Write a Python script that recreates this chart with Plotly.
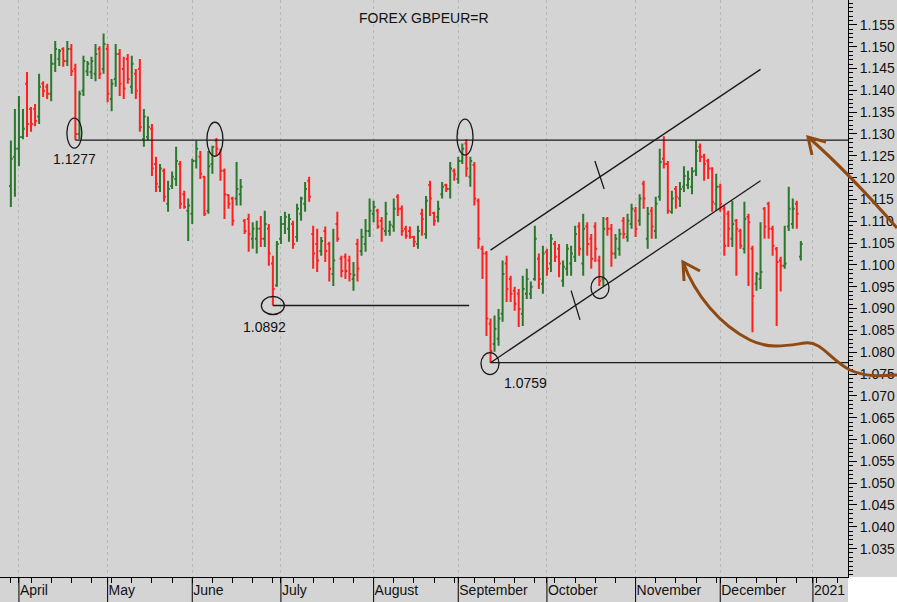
import pandas as pd
import plotly.graph_objects as go

# ---------------- data ----------------
first_bar = "2020-03-30"
last_bar = "2020-12-29"

opens = [
    1.1181, 1.1248, 1.1266, 1.1293, 1.1415, 1.1357, 1.1357, 1.1340, 1.1415, 1.1408,
    1.1392, 1.1461, 1.1472, 1.1495, 1.1467, 1.1495, 1.1449, 1.1300, 1.1399, 1.1444,
    1.1442, 1.1438, 1.1495, 1.1449, 1.1495, 1.1380, 1.1426, 1.1483, 1.1449, 1.1472,
    1.1408, 1.1438, 1.1449, 1.1288, 1.1293, 1.1312, 1.1231, 1.1179, 1.1216, 1.1140,
    1.1181, 1.1197, 1.1231, 1.1162, 1.1124, 1.1117, 1.1238, 1.1248, 1.1202, 1.1124,
    1.1231, 1.1285, 1.1255, 1.1216, 1.1160, 1.1152, 1.1152, 1.1162, 1.1101, 1.1105,
    1.1060, 1.1060, 1.1083, 1.1060, 1.1083, 1.1003, 1.0953, 1.1060, 1.1094, 1.1083,
    1.1094, 1.1064, 1.1117, 1.1140, 1.1193, 1.1071, 1.1048, 1.1032, 1.1078, 1.1048,
    1.0979, 1.1094, 1.1014, 1.1019, 1.1010, 1.0968, 1.1048, 1.1032, 1.1048, 1.1078,
    1.1117, 1.1124, 1.1101, 1.1078, 1.1078, 1.1088, 1.1156, 1.1129, 1.1083, 1.1078,
    1.1064, 1.1048, 1.1117, 1.1071, 1.1183, 1.1119, 1.1110, 1.1162, 1.1183, 1.1174,
    1.1216, 1.1197, 1.1238, 1.1278, 1.1202, 1.1229, 1.1147, 1.1037, 1.1026, 1.0865,
    1.0819, 1.0831, 1.0888, 1.1003, 1.0968, 1.0941, 1.0934, 1.0888, 1.0934, 1.0934,
    1.0968, 1.1014, 1.0957, 1.1030, 1.1003, 1.1048, 1.1037, 1.0964, 1.0991, 1.1003,
    1.1019, 1.1088, 1.1003, 1.1088, 1.1060, 1.1088, 1.1010, 1.0968, 1.1105, 1.1083,
    1.1026, 1.1037, 1.1101, 1.1064, 1.1094, 1.1124, 1.1101, 1.1186, 1.1060, 1.1124,
    1.1078, 1.1156, 1.1243, 1.1231, 1.1122, 1.1174, 1.1152, 1.1179, 1.1183, 1.1179,
    1.1216, 1.1271, 1.1248, 1.1238, 1.1221, 1.1140, 1.1179, 1.1129, 1.1117, 1.1060,
    1.1101, 1.1078, 1.1037, 1.1110, 1.1037, 1.0957, 1.0968, 1.1129, 1.1140, 1.1083,
    1.1037, 1.1010, 1.0998, 1.1088, 1.1094, 1.1140, 1.1019,
]
highs = [
    1.1285, 1.1357, 1.1387, 1.1357, 1.1442, 1.1362, 1.1369, 1.1438, 1.1421, 1.1415,
    1.1483, 1.1513, 1.1495, 1.1499, 1.1513, 1.1506, 1.1461, 1.1399, 1.1479, 1.1467,
    1.1477, 1.1506, 1.1501, 1.1530, 1.1506, 1.1426, 1.1506, 1.1495, 1.1477, 1.1483,
    1.1479, 1.1449, 1.1472, 1.1357, 1.1340, 1.1323, 1.1248, 1.1231, 1.1221, 1.1193,
    1.1214, 1.1271, 1.1238, 1.1170, 1.1152, 1.1243, 1.1285, 1.1261, 1.1204, 1.1261,
    1.1273, 1.1291, 1.1266, 1.1221, 1.1162, 1.1156, 1.1236, 1.1197, 1.1105, 1.1117,
    1.1098, 1.1101, 1.1112, 1.1124, 1.1094, 1.1021, 1.1055, 1.1112, 1.1122, 1.1117,
    1.1101, 1.1140, 1.1156, 1.1190, 1.1202, 1.1090, 1.1083, 1.1064, 1.1088, 1.1053,
    1.1083, 1.1122, 1.1021, 1.1026, 1.1021, 1.1007, 1.1060, 1.1083, 1.1105, 1.1152,
    1.1147, 1.1129, 1.1110, 1.1145, 1.1101, 1.1152, 1.1162, 1.1136, 1.1090, 1.1088,
    1.1067, 1.1090, 1.1129, 1.1158, 1.1193, 1.1122, 1.1147, 1.1190, 1.1186, 1.1236,
    1.1221, 1.1248, 1.1278, 1.1288, 1.1248, 1.1236, 1.1152, 1.1044, 1.1032, 1.0877,
    1.0884, 1.0899, 1.1010, 1.1021, 1.0975, 1.0950, 1.0945, 1.0975, 1.0991, 1.0962,
    1.1090, 1.1026, 1.1044, 1.1037, 1.1071, 1.1055, 1.1048, 1.1010, 1.1048, 1.1044,
    1.1090, 1.1098, 1.1117, 1.1098, 1.1071, 1.1098, 1.1021, 1.1110, 1.1110, 1.1094,
    1.1071, 1.1083, 1.1110, 1.1117, 1.1140, 1.1133, 1.1162, 1.1193, 1.1133, 1.1133,
    1.1156, 1.1266, 1.1295, 1.1238, 1.1170, 1.1181, 1.1190, 1.1226, 1.1216, 1.1224,
    1.1285, 1.1278, 1.1255, 1.1243, 1.1224, 1.1209, 1.1186, 1.1136, 1.1124, 1.1147,
    1.1105, 1.1083, 1.1145, 1.1117, 1.1044, 1.0984, 1.1098, 1.1133, 1.1145, 1.1090,
    1.1041, 1.1019, 1.1090, 1.1179, 1.1152, 1.1147, 1.1055,
]
lows = [
    1.1133, 1.1156, 1.1226, 1.1288, 1.1293, 1.1305, 1.1318, 1.1323, 1.1385, 1.1380,
    1.1375, 1.1442, 1.1456, 1.1454, 1.1456, 1.1433, 1.1286, 1.1288, 1.1387, 1.1433,
    1.1426, 1.1421, 1.1426, 1.1438, 1.1373, 1.1352, 1.1408, 1.1387, 1.1380, 1.1415,
    1.1392, 1.1380, 1.1305, 1.1271, 1.1285, 1.1204, 1.1167, 1.1167, 1.1145, 1.1122,
    1.1174, 1.1181, 1.1129, 1.1129, 1.1055, 1.1094, 1.1221, 1.1197, 1.1112, 1.1117,
    1.1209, 1.1250, 1.1193, 1.1105, 1.1129, 1.1090, 1.1136, 1.1136, 1.1071, 1.1030,
    1.1037, 1.1026, 1.1041, 1.1041, 1.0998, 1.0907, 1.0950, 1.1048, 1.1071, 1.1053,
    1.1037, 1.1053, 1.1101, 1.1122, 1.1145, 1.0991, 1.0984, 1.1021, 1.1007, 1.0962,
    1.0952, 1.1053, 1.0972, 1.0968, 1.0962, 1.0941, 1.0962, 1.1021, 1.1030, 1.1064,
    1.1098, 1.1083, 1.1053, 1.1067, 1.1067, 1.1076, 1.1112, 1.1067, 1.1060, 1.1060,
    1.1041, 1.1037, 1.1067, 1.1060, 1.1112, 1.1090, 1.1098, 1.1152, 1.1167, 1.1152,
    1.1193, 1.1186, 1.1231, 1.1202, 1.1179, 1.1136, 1.1037, 1.0968, 1.0837, 1.0776,
    1.0801, 1.0815, 1.0870, 1.0915, 1.0915, 1.0895, 1.0858, 1.0860, 1.0922, 1.0922,
    1.0964, 1.0945, 1.0934, 1.0975, 1.0984, 1.1007, 1.0972, 1.0950, 1.0975, 1.0975,
    1.1007, 1.1021, 1.0975, 1.1021, 1.0991, 1.1007, 1.0952, 1.0952, 1.1067, 1.0996,
    1.1014, 1.1021, 1.1060, 1.1053, 1.1083, 1.1064, 1.1090, 1.1129, 1.1037, 1.1060,
    1.1060, 1.1147, 1.1221, 1.1117, 1.1117, 1.1129, 1.1133, 1.1167, 1.1174, 1.1162,
    1.1204, 1.1236, 1.1193, 1.1197, 1.1122, 1.1124, 1.1122, 1.1021, 1.1041, 1.1041,
    1.0975, 1.1037, 1.1026, 1.0952, 1.0846, 1.0941, 1.0945, 1.1060, 1.1060, 1.1021,
    1.0860, 1.0939, 1.0991, 1.1078, 1.1083, 1.1083, 1.1010,
]
closes = [
    1.1243, 1.1266, 1.1293, 1.1312, 1.1323, 1.1323, 1.1330, 1.1408, 1.1399, 1.1392,
    1.1461, 1.1495, 1.1490, 1.1467, 1.1495, 1.1444, 1.1300, 1.1392, 1.1467, 1.1461,
    1.1467, 1.1483, 1.1438, 1.1506, 1.1392, 1.1415, 1.1483, 1.1415, 1.1404, 1.1426,
    1.1461, 1.1399, 1.1316, 1.1340, 1.1316, 1.1221, 1.1186, 1.1221, 1.1156, 1.1174,
    1.1202, 1.1238, 1.1140, 1.1133, 1.1136, 1.1238, 1.1266, 1.1209, 1.1117, 1.1226,
    1.1271, 1.1266, 1.1216, 1.1162, 1.1140, 1.1101, 1.1174, 1.1179, 1.1078, 1.1071,
    1.1083, 1.1083, 1.1060, 1.1094, 1.1026, 1.0945, 1.1048, 1.1094, 1.1110, 1.1105,
    1.1048, 1.1129, 1.1152, 1.1174, 1.1156, 1.1026, 1.1010, 1.1055, 1.1032, 1.0991,
    1.1010, 1.1060, 1.0986, 1.0986, 1.0979, 1.0977, 1.0991, 1.1064, 1.1078, 1.1124,
    1.1133, 1.1088, 1.1083, 1.1117, 1.1092, 1.1129, 1.1129, 1.1078, 1.1067, 1.1064,
    1.1053, 1.1078, 1.1105, 1.1147, 1.1152, 1.1101, 1.1129, 1.1179, 1.1174, 1.1221,
    1.1207, 1.1238, 1.1266, 1.1221, 1.1238, 1.1152, 1.1060, 1.1026, 1.0877, 1.0803,
    1.0853, 1.0877, 1.0979, 1.0945, 1.0934, 1.0911, 1.0899, 1.0945, 1.0968, 1.0950,
    1.1060, 1.0968, 1.1026, 1.0991, 1.1060, 1.1019, 1.1003, 1.0996, 1.1037, 1.1026,
    1.1071, 1.1037, 1.1083, 1.1048, 1.1014, 1.1037, 1.0964, 1.1083, 1.1083, 1.1026,
    1.1060, 1.1071, 1.1071, 1.1101, 1.1129, 1.1083, 1.1152, 1.1152, 1.1117, 1.1088,
    1.1140, 1.1236, 1.1231, 1.1124, 1.1152, 1.1156, 1.1174, 1.1204, 1.1197, 1.1214,
    1.1261, 1.1248, 1.1231, 1.1221, 1.1145, 1.1179, 1.1140, 1.1044, 1.1083, 1.1094,
    1.1083, 1.1044, 1.1105, 1.1098, 1.0929, 1.0979, 1.0984, 1.1088, 1.1083, 1.1044,
    1.1007, 1.0998, 1.1003, 1.1129, 1.1129, 1.1117, 1.1048,
]

month_starts = ["2020-04-01", "2020-05-01", "2020-06-01", "2020-07-01", "2020-08-03",
                "2020-09-01", "2020-10-01", "2020-11-02", "2020-12-01", "2021-01-01"]
month_labels = ["April", "May", "June", "July", "August",
                "September", "October", "November", "December", "2021"]
y_tick_values = [1.035, 1.040, 1.045, 1.050, 1.055, 1.060, 1.065, 1.070, 1.075,
                 1.080, 1.085, 1.090, 1.095, 1.100, 1.105, 1.110, 1.115, 1.120,
                 1.125, 1.130, 1.135, 1.140, 1.145, 1.150, 1.155]

# marked lows: (date, level where the line is drawn, printed label)
marked_lows = [("2020-04-21", 1.1286, "1.1277"),
               ("2020-06-29", 1.0907, "1.0892"),
               ("2020-09-11", 1.0776, "1.0759")]

# ---------------- trading-day axis ----------------
calendar = pd.bdate_range("2020-03-23", "2021-01-15")
idx = {d.strftime("%Y-%m-%d"): k for k, d in enumerate(calendar)}


def pos(d, frac=0.0):
    return idx[d] + frac


bar_dates = [d.strftime("%Y-%m-%d") for d in pd.bdate_range(first_bar, last_bar)]
xs = [idx[d] for d in bar_dates]
assert len(xs) == len(opens) == len(highs) == len(lows) == len(closes)

mondays = [idx[d.strftime("%Y-%m-%d")] for d in calendar if d.weekday() == 0]
month_pos = [idx[m] for m in month_starts]

x_lo = pos("2020-04-01") - 4.7
x_hi = pos("2020-04-01") + 205.7
y_lo, y_hi = 1.0285, 1.1607

BG = "#d4d4d4"
FONT = "Liberation Sans, Arial, sans-serif"
INK = "#1a1a1a"
BROWN = "#8f4a14"

fig = go.Figure()
fig.add_trace(go.Ohlc(
    x=xs, open=opens, high=highs, low=lows, close=closes,
    increasing=dict(line=dict(color="#2b772b", width=2)),
    decreasing=dict(line=dict(color="#ff1f1f", width=2)),
    tickwidth=0.45, showlegend=False, hoverinfo="skip",
))

shapes = []
# long month separators below the axis
for mp in month_pos:
    shapes.append(dict(type="line", xref="x", yref="paper", x0=mp, x1=mp,
                       y0=-0.045, y1=0, line=dict(color="black", width=1)))

# horizontal support / resistance lines
(d1, v1, _), (d2, v2, _), (d3, v3, _) = marked_lows
shapes.append(dict(type="line", xref="x", yref="y", x0=pos(d1), x1=x_hi,
                   y0=v1, y1=v1, line=dict(color=INK, width=1.3)))
shapes.append(dict(type="line", xref="x", yref="y", x0=pos(d2),
                   x1=pos("2020-09-03", 0.7), y0=v2, y1=v2,
                   line=dict(color=INK, width=1.3)))
shapes.append(dict(type="line", xref="x", yref="y", x0=pos(d3), x1=x_hi,
                   y0=v3, y1=v3, line=dict(color=INK, width=1.3)))

# rising channel
shapes.append(dict(type="line", xref="x", yref="y", x0=pos("2020-09-11"), x1=pos("2020-12-15"),
                   y0=1.1034, y1=1.1448, line=dict(color=INK, width=1.3)))
shapes.append(dict(type="line", xref="x", yref="y", x0=pos("2020-09-11"), x1=pos("2020-12-15"),
                   y0=1.0776, y1=1.1193, line=dict(color=INK, width=1.3)))
# perpendicular marks on channel lines
shapes.append(dict(type="line", xref="x", yref="y", x0=pos("2020-10-16", 0.9),
                   x1=pos("2020-10-21", 0.2), y0=1.1238, y1=1.1174,
                   line=dict(color=INK, width=1.3)))
shapes.append(dict(type="line", xref="x", yref="y", x0=pos("2020-10-09"),
                   x1=pos("2020-10-13", 0.2), y0=1.0941, y1=1.0874,
                   line=dict(color=INK, width=1.3)))

# ellipses (anchored on bars, pixel sized)
ellipses = [
    ("2020-04-21", 1.1302, -8.5, 6.5, 15),
    ("2020-06-09", 1.1288, -9.5, 6.5, 17),
    ("2020-09-03", 1.1293, -9.3, 6.7, 18),
    ("2020-06-29", 1.0907, -11.5, 11.5, 9),
    ("2020-09-11", 1.0774, -9.5, 8.5, 11),
    ("2020-10-20", 1.0948, -8.3, 9.7, 11),
]
for d, v, a, b, hh in ellipses:
    shapes.append(dict(type="circle", xref="x", yref="y", xsizemode="pixel", ysizemode="pixel",
                       xanchor=pos(d), yanchor=v, x0=a, x1=b, y0=-hh, y1=hh,
                       line=dict(color=INK, width=1.3)))

# brown hand-drawn arrows (paper coordinates of the plot area)
PW, PH = 848.0, 577.0


def pp(px, py):
    return f"{px / PW:.5f},{(PH - py) / PH:.5f}"


arrow1 = f"M {pp(897, 228)} Q {pp(846, 170)} {pp(808, 137)}"
head1 = f"M {pp(826, 142)} L {pp(808, 137)} L {pp(812, 155)}"
arrow2 = (f"M {pp(683, 262)} C {pp(695, 295)} {pp(720, 325)} {pp(750, 340)} "
          f"C {pp(770, 350)} {pp(790, 345)} {pp(805, 343)} "
          f"C {pp(822, 341)} {pp(830, 360)} {pp(850, 370)} "
          f"C {pp(865, 377)} {pp(880, 376)} {pp(897, 375)}")
head2 = f"M {pp(700, 271)} L {pp(683, 262)} L {pp(684, 281)}"
for p in (arrow1, head1, arrow2, head2):
    shapes.append(dict(type="path", xref="paper", yref="paper", path=p,
                       line=dict(color=BROWN, width=3)))

# white corner below the price axis
shapes.append(dict(type="rect", xref="paper", yref="paper", x0=1.0, x1=1.07,
                   y0=-0.05, y1=0, fillcolor="white", line=dict(width=0), layer="below"))

annotations = [dict(text="FOREX GBPEUR=R", xref="paper", yref="paper", x=0.5, y=(PH - 18) / PH,
                    showarrow=False, font=dict(family=FONT, size=14, color="#111"),
                    xanchor="center", yanchor="middle")]
label_shift = {"1.1277": (-0.5, -19), "1.0892": (-8, -21), "1.0759": (34.5, -20)}
for d, v, t in marked_lows:
    xsft, ysft = label_shift[t]
    annotations.append(dict(text=t, x=pos(d), y=v, xref="x", yref="y", showarrow=False,
                            xshift=xsft, yshift=ysft, xanchor="center", yanchor="middle",
                            font=dict(family=FONT, size=14, color="#111")))

fig.update_layout(
    width=897, height=602,
    template="none",
    margin=dict(l=0, r=49, t=0, b=25, pad=0),
    paper_bgcolor=BG, plot_bgcolor=BG,
    font=dict(family=FONT, size=14, color="#111"),
    hovermode=False,
    showlegend=False,
    shapes=shapes,
    annotations=annotations,
    xaxis=dict(
        range=[x_lo, x_hi], autorange=False, automargin=False,
        tickmode="array", tickvals=month_pos, ticktext=month_labels,
        ticks="outside", ticklen=5, tickcolor="black", tickwidth=1,
        ticklabelposition="outside right",
        tickfont=dict(family=FONT, size=14, color="#111"),
        showline=True, linecolor="black", linewidth=1,
        showgrid=True, gridcolor="#b9b9b9", griddash="dot", gridwidth=1,
        zeroline=False,
        minor=dict(tickmode="array", tickvals=mondays, ticks="outside", ticklen=5,
                   tickcolor="black", tickwidth=1, showgrid=False),
        rangeslider=dict(visible=False),
    ),
    yaxis=dict(
        side="right", range=[y_lo, y_hi], autorange=False, automargin=False,
        tickmode="array", tickvals=y_tick_values,
        ticktext=[f"{v:.3f}" for v in y_tick_values],
        ticks="outside", ticklen=8, tickcolor="black", tickwidth=1,
        tickfont=dict(family=FONT, size=14, color="#111"),
        showline=True, linecolor="black", linewidth=1,
        showgrid=False, zeroline=False,
        minor=dict(tickmode="linear", tick0=1.0, dtick=0.001, ticks="outside", ticklen=4,
                   tickcolor="black", tickwidth=1, showgrid=False),
    ),
)

fig.write_html(
    "out.html",
    config={"displayModeBar": False, "responsive": False},
    post_script="document.body.style.margin='0';document.body.style.overflow='hidden';",
)
